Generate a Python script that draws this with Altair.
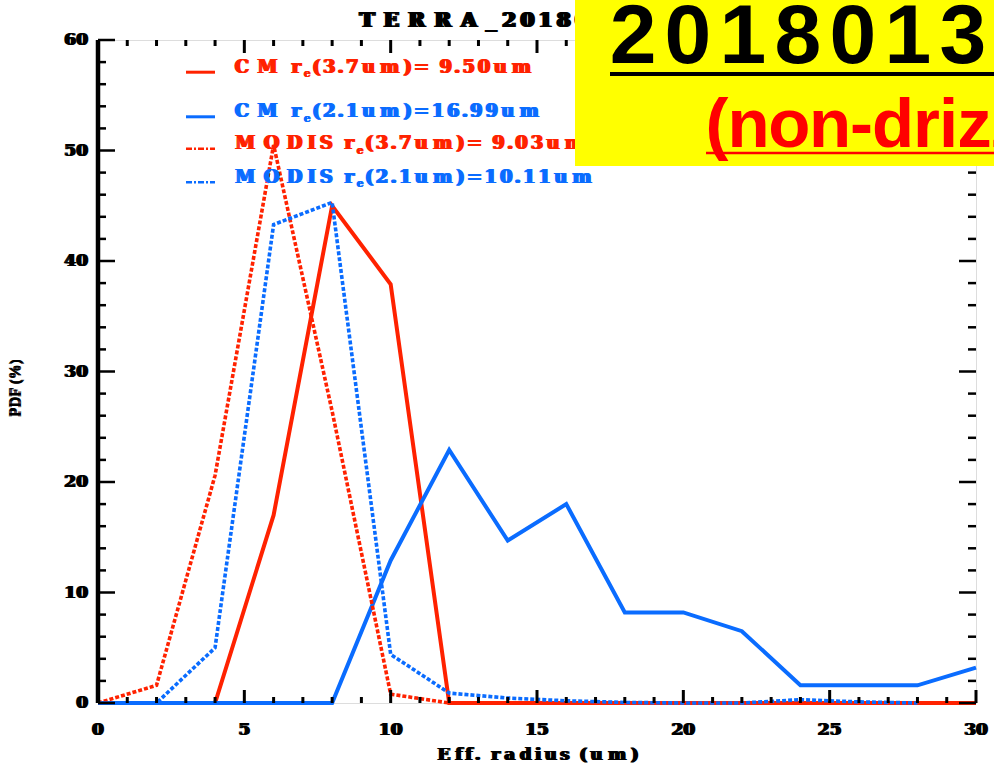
import altair as alt
import pandas as pd

# ---- droplet effective-radius PDFs (bins of 2 um) ----
radius = [0, 2, 4, 6, 8, 10, 12, 14, 16, 18, 20, 22, 24, 26, 28, 30]
cm_37 = [0, 0, 0, 17.0, 45.0, 37.9, 0, 0, 0, 0, 0, 0, 0, 0, 0, 0]
cm_21 = [0, 0, 0, 0, 0, 12.9, 22.9, 14.7, 18.0, 8.2, 8.2, 6.5, 1.6, 1.6, 1.6, 3.2]
modis_radius = [0, 2, 4, 6, 8, 10, 12, 14, 16, 18, 20, 22, 24, 26, 28]
modis_37 = [0, 1.6, 20.6, 50.5, 26.4, 0.8, 0, 0, 0, 0, 0, 0, 0, 0, 0]
modis_21 = [0, 0, 5.0, 43.3, 45.3, 4.4, 0.9, 0.45, 0.2, 0.05, 0, 0, 0.3, 0.1, 0]

series_names = ["CM37", "CM21", "MODIS37", "MODIS21"]
legend_parts = [
    [("CM r", False), ("e", True), ("(3.7um)= 9.50um", False)],
    [("CM r", False), ("e", True), ("(2.1um)=16.99um", False)],
    [("MODIS r", False), ("e", True), ("(3.7um)= 9.03um", False)],
    [("MODIS r", False), ("e", True), ("(2.1um)=10.11um", False)],
]
title_text = "TERRA_20180131"
x_title = "Eff. radius (um)"
y_title = "PDF (%)"
date_text = "20180131"
tag_text = "(non-drizzle)"

x_major = [0, 5, 10, 15, 20, 25, 30]
x_minor = [v for v in range(0, 31) if v % 5]
y_major = [0, 10, 20, 30, 40, 50, 60]
y_minor = [v for v in range(0, 61, 2) if v % 10]

RED = "#ff2200"
BLUE = "#0a6cff"
W, H = 878, 663

rows = []
for name, xs, ys in [("CM37", radius, cm_37), ("CM21", radius, cm_21),
                     ("MODIS37", modis_radius, modis_37), ("MODIS21", modis_radius, modis_21)]:
    rows += [{"r": a, "pdf": b, "series": name} for a, b in zip(xs, ys)]
df = pd.DataFrame(rows)

xscale = alt.Scale(domain=[0, 30], nice=False, zero=False)
yscale = alt.Scale(domain=[0, 60], nice=False, zero=False)
X = alt.X("r:Q", scale=xscale, axis=None)
Y = alt.Y("pdf:Q", scale=yscale, axis=None)

# advance widths (1/1000 em) used to lay out wide text glyph by glyph
SERIF_ADV = {" ": 250, "(": 333, ")": 333, ".": 250, "=": 570, "_": 500, "%": 1000,
             "A": 722, "C": 722, "D": 722, "E": 667, "I": 389, "M": 944, "O": 778,
             "R": 722, "S": 556, "T": 667, "e": 444, "m": 833, "r": 444, "u": 556,
             "f": 333, "a": 500, "d": 556, "i": 278, "s": 389}
SANS_ADV = {"(": 333, ")": 333, "-": 333, "n": 611, "o": 611, "d": 611, "r": 389,
            "i": 278, "z": 500, "l": 278, "e": 556}


def spread(parts, x0, y0, k, size, color, adv, sub_size=11, sub_drop=4.5, widen=(0,)):
    out = []
    x = x0
    for text, sub in parts:
        f = 0.6 if sub else 1.0
        for ch in text:
            w = adv.get(ch, 556 if adv is SANS_ADV else 500) * k * f
            if ch != " ":
                for dx in widen:
                    out.append({"ch": ch, "px": x + w / 2 + dx * f,
                                "py": y0 + (sub_drop if sub else 0),
                                "fs": float(sub_size if sub else size), "col": color})
            x += w
    return out


def glyph_layers(rows_, family):
    d = pd.DataFrame(rows_)
    out = []
    for fs, part in d.groupby("fs"):
        out.append(
            alt.Chart(part).mark_text(font=family, fontWeight="bold", fontSize=float(fs),
                                      align="center", baseline="alphabetic").encode(
                x=alt.X("px:Q", scale=None), y=alt.Y("py:Q", scale=None), text="ch:N",
                color=alt.Color("col:N", scale=None, legend=None))
        )
    return out


WIDE = (-1.0, 0.0, 1.0)
serif_glyphs = []
legend_y = [32.7, 77.3, 109.3, 142.7]
legend_col = [RED, BLUE, RED, BLUE]
for parts, yy, cc in zip(legend_parts, legend_y, legend_col):
    serif_glyphs += spread(parts, 132.7, yy, 0.0307, 18, cc, SERIF_ADV, widen=WIDE)
serif_glyphs += spread([(title_text, False)], 257, -13.3, 0.0363, 20, "black", SERIF_ADV,
                       widen=(-1.5, -0.5, 0.5, 1.5))
serif_glyphs += spread([(x_title, False)], 336, 720, 0.030, 17, "black", SERIF_ADV, widen=WIDE)

sans_glyphs = spread([(date_text, False)], 507.5, 23, 0.0989, 84, "black", SANS_ADV)
sans_glyphs += spread([(tag_text, False)], 608, 107, 0.0667, 69, "#ff0000", SANS_ADV)

layers = []

# data curves
styles = {
    "CM37": dict(color=RED, strokeWidth=4),
    "CM21": dict(color=BLUE, strokeWidth=4),
    "MODIS37": dict(color=RED, strokeWidth=3.6, strokeDash=[4, 2]),
    "MODIS21": dict(color=BLUE, strokeWidth=3.6, strokeDash=[4, 2]),
}
for name in series_names:
    layers.append(
        alt.Chart(df).transform_filter(alt.datum.series == name)
        .mark_line(strokeJoin="miter", **styles[name]).encode(x=X, y=Y)
    )


# inward tick marks on all four sides
def xticks(vals, length, side):
    d = pd.DataFrame({"r": vals})
    y0, y1 = (H, H - length) if side == "bottom" else (0, length)
    return alt.Chart(d).mark_rule(color="black", strokeWidth=3).encode(
        x=X, y=alt.value(y0), y2=alt.value(y1))


def yticks(vals, length, side):
    d = pd.DataFrame({"pdf": vals})
    x0, x1 = (0, length) if side == "left" else (W, W - length)
    return alt.Chart(d).mark_rule(color="black", strokeWidth=2.5).encode(
        y=Y, x=alt.value(x0), x2=alt.value(x1))


for side in ["bottom", "top"]:
    layers.append(xticks(x_major, 13, side))
    layers.append(xticks(x_minor, 6, side))
for side in ["left", "right"]:
    layers.append(yticks(y_major, 17, side))
    layers.append(yticks(y_minor, 8, side))

# tick labels placed through the axis scales, drawn thick and wide
xl = pd.DataFrame({"r": x_major, "lbl": [str(v) for v in x_major]})
yl = pd.DataFrame({"pdf": y_major, "lbl": [str(v) for v in y_major]})
for dx in (-1.0, 0.0, 1.0):
    layers.append(alt.Chart(xl).mark_text(
        font="DejaVu Serif", fontWeight="bold", fontSize=17, align="center",
        baseline="middle", color="black", dx=dx).encode(
        x=X, y=alt.value(H + 27), text="lbl:N"))
    layers.append(alt.Chart(yl).mark_text(
        font="DejaVu Serif", fontWeight="bold", fontSize=17, align="right",
        baseline="middle", color="black", dx=dx).encode(
        y=Y, x=alt.value(-10), text="lbl:N"))

one = pd.DataFrame({"a": [0]})

# heavier left frame line
layers.append(alt.Chart(one).mark_rule(color="black", strokeWidth=4.5).encode(
    x=alt.value(0), y=alt.value(0), y2=alt.value(H)))

# legend samples
sample_styles = [
    dict(color=RED, strokeWidth=3),
    dict(color=BLUE, strokeWidth=3),
    dict(color=RED, strokeWidth=2.5, strokeDash=[6, 2, 2, 2]),
    dict(color=BLUE, strokeWidth=2.5, strokeDash=[6, 2, 2, 2]),
]
for yy, st in zip(legend_y, sample_styles):
    layers.append(alt.Chart(one).mark_rule(**st).encode(
        x=alt.value(88), x2=alt.value(117), y=alt.value(yy - 0.5)))

# legend, title and x-axis title text
layers += glyph_layers(serif_glyphs, "DejaVu Serif")

# y-axis title
for xx in (-84, -83, -82):
    layers.append(alt.Chart(pd.DataFrame({"t": [y_title]})).mark_text(
        font="Liberation Serif", fontWeight="bold", fontSize=15, angle=270,
        align="center", baseline="middle", color="black").encode(
        x=alt.value(xx), y=alt.value(348), text="t:N"))

# yellow date banner
layers.append(alt.Chart(one).mark_rect(color="#ffff00").encode(
    x=alt.value(477), x2=alt.value(920), y=alt.value(-45), y2=alt.value(126)))
layers += glyph_layers(sans_glyphs, "Liberation Sans")
layers.append(alt.Chart(one).mark_rule(color="black", strokeWidth=4).encode(
    x=alt.value(512), x2=alt.value(920), y=alt.value(34)))
layers.append(alt.Chart(one).mark_rule(color="#ff0000", strokeWidth=2.5).encode(
    x=alt.value(608), x2=alt.value(920), y=alt.value(113)))

chart = alt.layer(*layers).properties(
    width=W, height=H, autosize="none",
    padding={"left": 98, "top": 40, "right": 18, "bottom": 65},
).configure_view(stroke="black", strokeWidth=3).configure(background="white")

chart.save("out.html", embed_options={"renderer": "svg", "actions": False})
